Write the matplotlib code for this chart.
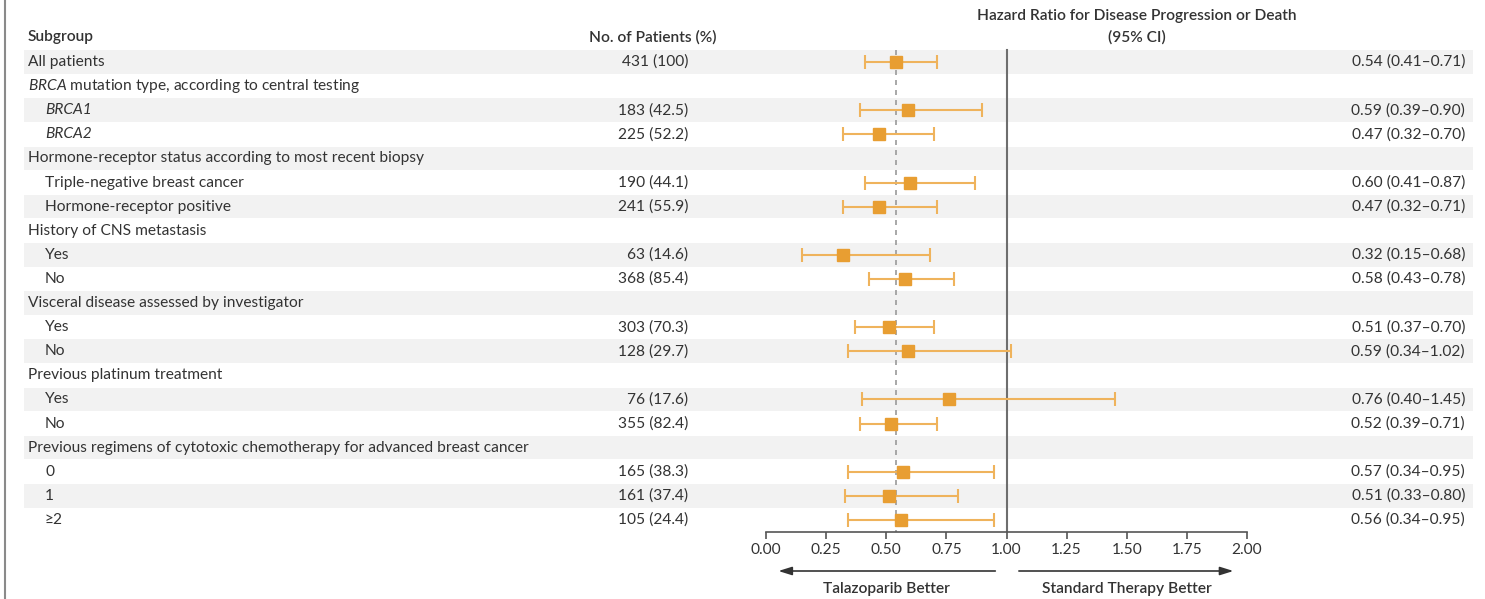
import matplotlib
matplotlib.use('Agg')
import matplotlib.pyplot as plt
from matplotlib.transforms import blended_transform_factory
from matplotlib.lines import Line2D

plt.rcParams['font.family'] = ['Lato', 'DejaVu Sans']
plt.rcParams['mathtext.fontset'] = 'custom'
plt.rcParams['mathtext.rm'] = 'Lato'
plt.rcParams['mathtext.it'] = 'Lato:italic'

# rows of the table, top to bottom (None = group header, no estimate)
labels = [
    'All patients',
    r'$\it{BRCA}$ mutation type, according to central testing',
    'BRCA1',
    'BRCA2',
    'Hormone-receptor status according to most recent biopsy',
    'Triple-negative breast cancer',
    'Hormone-receptor positive',
    'History of CNS metastasis',
    'Yes',
    'No',
    'Visceral disease assessed by investigator',
    'Yes',
    'No',
    'Previous platinum treatment',
    'Yes',
    'No',
    'Previous regimens of cytotoxic chemotherapy for advanced breast cancer',
    '0',
    '1',
    '\u22652',
]
indented = [False, False, True, True, False, True, True, False, True, True,
            False, True, True, False, True, True, False, True, True, True]
italic = [False, False, True, True] + [False] * 16
patients = ['431 (100)', '', '183 (42.5)', '225 (52.2)', '', '190 (44.1)', '241 (55.9)',
            '', '63 (14.6)', '368 (85.4)', '', '303 (70.3)', '128 (29.7)', '',
            '76 (17.6)', '355 (82.4)', '', '165 (38.3)', '161 (37.4)', '105 (24.4)']
hr = [0.54, None, 0.59, 0.47, None, 0.60, 0.47, None, 0.32, 0.58, None, 0.51, 0.59,
      None, 0.76, 0.52, None, 0.57, 0.51, 0.56]
ci_low = [0.41, None, 0.39, 0.32, None, 0.41, 0.32, None, 0.15, 0.43, None, 0.37, 0.34,
          None, 0.40, 0.39, None, 0.34, 0.33, 0.34]
ci_high = [0.71, None, 0.90, 0.70, None, 0.87, 0.71, None, 0.68, 0.78, None, 0.70, 1.02,
           None, 1.45, 0.71, None, 0.95, 0.80, 0.95]
overall_hr = 0.54
xticks = [0.0, 0.25, 0.5, 0.75, 1.0, 1.25, 1.5, 1.75, 2.0]

W, H = 1485, 599
fig = plt.figure(figsize=(W / 100, H / 100), dpi=100)
fig.patch.set_facecolor('white')

# forest axes placed in pixel terms
x0, x1 = 766, 1247
ybot = 532
ax = fig.add_axes([x0 / W, (H - ybot) / H, (x1 - x0) / W, ybot / H])
row0, step = 62, 24.1
ax.set_ylim((ybot - row0) / step, -row0 / step)
ax.set_xlim(0, 2)
ax.patch.set_alpha(0)

txt = '#333333'
fs = 11.2
hw = 'semibold'
to_fig = blended_transform_factory(fig.transFigure, ax.transData)

def px(x):
    return x / W

n = len(labels)
for i in range(n):
    if i % 2 == 0:
        ax.axhspan(i - 0.49, i + 0.49, xmin=(24 - x0) / (x1 - x0), xmax=(1473 - x0) / (x1 - x0),
                   color='#f2f2f2', lw=0, zorder=0, clip_on=False)
    ax.text(px(45 if indented[i] else 28), i, labels[i], transform=to_fig,
            ha='left', va='center', fontsize=fs, color=txt,
            fontstyle='italic' if italic[i] else 'normal')
    if patients[i]:
        ax.text(px(688), i, patients[i], transform=to_fig, ha='right', va='center',
                fontsize=fs, color=txt)
    if hr[i] is not None:
        ax.errorbar(hr[i], i, xerr=[[hr[i] - ci_low[i]], [ci_high[i] - hr[i]]],
                    fmt='none', ecolor='#efb35c', elinewidth=1.5, capsize=4.7,
                    capthick=1.5, zorder=3)
        ax.plot(hr[i], i, marker='s', ms=9, color='#e89e32', mec='#e89e32', zorder=4)
        ax.text(px(1465), i, f'{hr[i]:.2f} ({ci_low[i]:.2f}\u2013{ci_high[i]:.2f})',
                transform=to_fig, ha='right', va='center', fontsize=fs, color=txt)

# reference lines
ax.plot([overall_hr, overall_hr], [-0.5, ax.get_ylim()[0]], color='#9a9a9a', lw=1.2,
        ls=(0, (3, 3)), zorder=2)
ax.plot([1, 1], [-0.5, ax.get_ylim()[0]], color='#6e6e6e', lw=1.5, zorder=2)

# headers
ax.text(px(28), -1.03, 'Subgroup', transform=to_fig, ha='left', va='center',
        fontsize=fs, fontweight=hw, color=txt)
ax.text(px(653), -1.03, 'No. of Patients (%)', transform=to_fig, ha='center', va='center',
        fontsize=fs, fontweight=hw, color=txt)
ax.text(px(1137), -1.9, 'Hazard Ratio for Disease Progression or Death', transform=to_fig,
        ha='center', va='center', fontsize=fs, fontweight=hw, color=txt)
ax.text(px(1137), -1.03, '(95% CI)', transform=to_fig, ha='center', va='center',
        fontsize=fs, fontweight=hw, color=txt)

# axis
for s in ['top', 'left', 'right']:
    ax.spines[s].set_visible(False)
ax.spines['bottom'].set_color('#555555')
ax.spines['bottom'].set_linewidth(1.2)
ax.set_yticks([])
ax.set_xticks(xticks)
ax.set_xticklabels([f'{t:.2f}' for t in xticks])
ax.tick_params(axis='x', direction='out', length=5, width=1.2, color='#555555',
               labelsize=fs, labelcolor=txt, pad=3)

# direction arrows
ya = (571 - row0) / step
ax.annotate('', xy=(0.04, ya), xytext=(0.965, ya), annotation_clip=False,
            arrowprops=dict(arrowstyle='-|>,head_length=0.8,head_width=0.25', color='#333333', lw=1.2))
ax.annotate('', xy=(1.955, ya), xytext=(1.04, ya), annotation_clip=False,
            arrowprops=dict(arrowstyle='-|>,head_length=0.8,head_width=0.25', color='#333333', lw=1.2))
yl = (589 - row0) / step
ax.text(0.5, yl, 'Talazoparib Better', ha='center', va='center', fontsize=fs,
        fontweight=hw, color=txt, clip_on=False)
ax.text(1.5, yl, 'Standard Therapy Better', ha='center', va='center', fontsize=fs,
        fontweight=hw, color=txt, clip_on=False)

# left frame line
fig.add_artist(Line2D([px(5), px(5)], [0, 1], color='#8a8a8a', lw=1.5))

fig.savefig('out.png', dpi=100)
